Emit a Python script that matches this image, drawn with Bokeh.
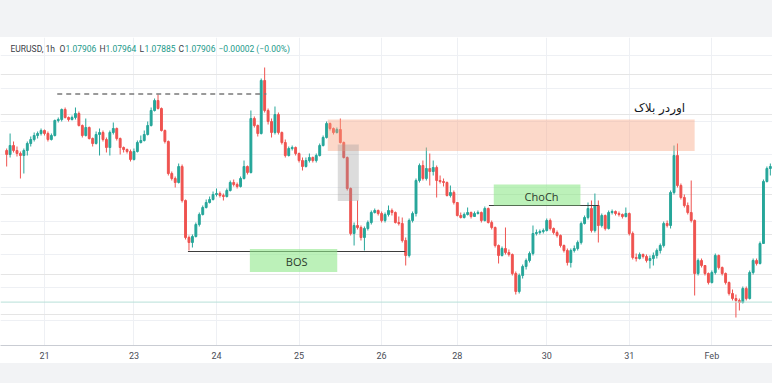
from bokeh.plotting import figure
from bokeh.models import FixedTicker, BoxAnnotation, Label, Grid, Span, Div
from bokeh.layouts import column
from bokeh.embed import file_html
from bokeh.resources import INLINE

# ---- data: EURUSD 1h candles (index 0 = first bar of the 21st) ----
hours = list(range(-11, 214))
first_open = 1.08020
close = [
    1.08000, 1.08045, 1.08020, 1.08005, 1.07995, 1.08020, 1.08055, 1.08075, 1.08095, 1.08105,
    1.08120, 1.08105, 1.08075, 1.08095, 1.08170, 1.08175, 1.08225, 1.08185, 1.08175, 1.08185,
    1.08205, 1.08145, 1.08095, 1.08135, 1.08080, 1.08055, 1.08100, 1.08110, 1.08075, 1.08035,
    1.08110, 1.08130, 1.08080, 1.08035, 1.08025, 1.08015, 1.07975, 1.08015, 1.08060, 1.08070,
    1.08100, 1.08145, 1.08220, 1.08270, 1.08230, 1.08120, 1.08065, 1.07905, 1.07880, 1.07860,
    1.07940, 1.07770, 1.07585, 1.07560, 1.07590, 1.07650, 1.07700, 1.07735, 1.07760, 1.07775,
    1.07800, 1.07805, 1.07795, 1.07790, 1.07820, 1.07860, 1.07850, 1.07840, 1.07880, 1.07940,
    1.07910, 1.08180, 1.08145, 1.08105, 1.08370, 1.08220, 1.08165, 1.08110, 1.08200, 1.08110,
    1.08060, 1.07995, 1.08030, 1.08035, 1.08005, 1.07970, 1.07940, 1.07970, 1.07985, 1.07970,
    1.07995, 1.08045, 1.08085, 1.08155, 1.08130, 1.08110, 1.08125, 1.08060, 1.07985, 1.07830,
    1.07605, 1.07645, 1.07635, 1.07585, 1.07630, 1.07660, 1.07710, 1.07720, 1.07705, 1.07670,
    1.07700, 1.07720, 1.07710, 1.07660, 1.07655, 1.07570, 1.07495, 1.07670, 1.07705, 1.07870,
    1.07945, 1.07880, 1.07930, 1.07915, 1.07935, 1.07870, 1.07865, 1.07860, 1.07795, 1.07810,
    1.07760, 1.07695, 1.07685, 1.07700, 1.07710, 1.07690, 1.07705, 1.07710, 1.07670, 1.07730,
    1.07660, 1.07635, 1.07545, 1.07495, 1.07530, 1.07510, 1.07500, 1.07405, 1.07315, 1.07395,
    1.07440, 1.07470, 1.07505, 1.07605, 1.07610, 1.07615, 1.07620, 1.07670, 1.07630, 1.07610,
    1.07595, 1.07545, 1.07520, 1.07460, 1.07520, 1.07530, 1.07560, 1.07655, 1.07685, 1.07730,
    1.07620, 1.07745, 1.07645, 1.07695, 1.07630, 1.07710, 1.07715, 1.07705, 1.07700, 1.07690,
    1.07705, 1.07605, 1.07485, 1.07480, 1.07500, 1.07490, 1.07470, 1.07480, 1.07495, 1.07520,
    1.07545, 1.07655, 1.07645, 1.07810, 1.07995, 1.07845, 1.07785, 1.07745, 1.07710, 1.07670,
    1.07405, 1.07470, 1.07445, 1.07405, 1.07360, 1.07410, 1.07495, 1.07435, 1.07405, 1.07360,
    1.07305, 1.07280, 1.07270, 1.07260, 1.07330, 1.07280, 1.07410, 1.07470, 1.07455, 1.07555,
    1.07865, 1.07930, 1.07940, 1.07920, 1.07940,
]
high = [
    1.08030, 1.08105, 1.08065, 1.08040, 1.08015, 1.08030, 1.08065, 1.08090, 1.08110, 1.08115,
    1.08130, 1.08125, 1.08115, 1.08105, 1.08175, 1.08185, 1.08230, 1.08235, 1.08190, 1.08195,
    1.08235, 1.08215, 1.08150, 1.08180, 1.08140, 1.08085, 1.08115, 1.08130, 1.08120, 1.08085,
    1.08120, 1.08160, 1.08135, 1.08085, 1.08040, 1.08030, 1.08025, 1.08030, 1.08070, 1.08095,
    1.08120, 1.08165, 1.08235, 1.08280, 1.08300, 1.08235, 1.08125, 1.08070, 1.07915, 1.07890,
    1.07955, 1.07950, 1.07775, 1.07595, 1.07600, 1.07660, 1.07710, 1.07745, 1.07775, 1.07790,
    1.07815, 1.07830, 1.07815, 1.07805, 1.07830, 1.07870, 1.07875, 1.07860, 1.07890, 1.07970,
    1.07945, 1.08220, 1.08190, 1.08150, 1.08380, 1.08435, 1.08230, 1.08180, 1.08240, 1.08210,
    1.08115, 1.08075, 1.08040, 1.08045, 1.08040, 1.08010, 1.07985, 1.07985, 1.08005, 1.07990,
    1.08005, 1.08055, 1.08095, 1.08165, 1.08160, 1.08135, 1.08135, 1.08180, 1.08065, 1.07990,
    1.07835, 1.07660, 1.07770, 1.07645, 1.07640, 1.07670, 1.07720, 1.07730, 1.07725, 1.07715,
    1.07710, 1.07745, 1.07730, 1.07715, 1.07690, 1.07685, 1.07585, 1.07680, 1.07715, 1.07880,
    1.07955, 1.07970, 1.08035, 1.08005, 1.07970, 1.07945, 1.07895, 1.07880, 1.07865, 1.07845,
    1.07820, 1.07735, 1.07710, 1.07710, 1.07735, 1.07715, 1.07715, 1.07720, 1.07715, 1.07740,
    1.07735, 1.07670, 1.07640, 1.07550, 1.07540, 1.07635, 1.07525, 1.07505, 1.07415, 1.07405,
    1.07450, 1.07480, 1.07515, 1.07645, 1.07625, 1.07625, 1.07630, 1.07680, 1.07680, 1.07635,
    1.07620, 1.07600, 1.07550, 1.07530, 1.07530, 1.07545, 1.07570, 1.07665, 1.07695, 1.07760,
    1.07770, 1.07805, 1.07770, 1.07705, 1.07700, 1.07720, 1.07725, 1.07720, 1.07715, 1.07705,
    1.07735, 1.07710, 1.07615, 1.07505, 1.07510, 1.07505, 1.07500, 1.07495, 1.07510, 1.07530,
    1.07555, 1.07665, 1.07670, 1.07820, 1.08045, 1.08055, 1.07855, 1.07800, 1.07760, 1.07870,
    1.07675, 1.07480, 1.07480, 1.07445, 1.07410, 1.07420, 1.07505, 1.07500, 1.07440, 1.07410,
    1.07365, 1.07325, 1.07300, 1.07280, 1.07340, 1.07340, 1.07420, 1.07480, 1.07480, 1.07565,
    1.07875, 1.07940, 1.07955, 1.07950, 1.07955,
]
low = [
    1.07940, 1.07985, 1.08010, 1.07990, 1.07880, 1.07905, 1.07995, 1.08040, 1.08065, 1.08080,
    1.08095, 1.08095, 1.08065, 1.08070, 1.08090, 1.08160, 1.08165, 1.08180, 1.08165, 1.08170,
    1.08175, 1.08140, 1.08085, 1.08090, 1.08075, 1.08040, 1.08050, 1.07995, 1.08065, 1.08010,
    1.07995, 1.08100, 1.08070, 1.08000, 1.08010, 1.08005, 1.07965, 1.07970, 1.08010, 1.08055,
    1.08065, 1.08095, 1.08140, 1.08215, 1.08225, 1.08115, 1.08055, 1.07895, 1.07870, 1.07835,
    1.07855, 1.07760, 1.07575, 1.07520, 1.07535, 1.07585, 1.07640, 1.07695, 1.07730, 1.07755,
    1.07770, 1.07790, 1.07785, 1.07770, 1.07785, 1.07815, 1.07840, 1.07830, 1.07835, 1.07875,
    1.07900, 1.07905, 1.08135, 1.08090, 1.08100, 1.08210, 1.08150, 1.08085, 1.08100, 1.08100,
    1.08050, 1.07985, 1.07990, 1.08020, 1.07995, 1.07960, 1.07920, 1.07935, 1.07960, 1.07960,
    1.07960, 1.07990, 1.08040, 1.08080, 1.08120, 1.08100, 1.08105, 1.08055, 1.07980, 1.07820,
    1.07595, 1.07545, 1.07625, 1.07570, 1.07520, 1.07620, 1.07650, 1.07705, 1.07695, 1.07660,
    1.07660, 1.07690, 1.07695, 1.07655, 1.07645, 1.07560, 1.07445, 1.07485, 1.07660, 1.07690,
    1.07860, 1.07870, 1.07870, 1.07845, 1.07895, 1.07785, 1.07855, 1.07840, 1.07790, 1.07785,
    1.07750, 1.07690, 1.07680, 1.07680, 1.07695, 1.07680, 1.07690, 1.07700, 1.07660, 1.07665,
    1.07655, 1.07625, 1.07535, 1.07455, 1.07490, 1.07500, 1.07490, 1.07395, 1.07300, 1.07305,
    1.07380, 1.07425, 1.07460, 1.07495, 1.07595, 1.07600, 1.07605, 1.07615, 1.07620, 1.07600,
    1.07585, 1.07535, 1.07510, 1.07445, 1.07435, 1.07510, 1.07520, 1.07550, 1.07650, 1.07675,
    1.07610, 1.07610, 1.07560, 1.07635, 1.07620, 1.07625, 1.07700, 1.07695, 1.07690, 1.07680,
    1.07685, 1.07595, 1.07475, 1.07465, 1.07475, 1.07480, 1.07460, 1.07430, 1.07445, 1.07480,
    1.07505, 1.07535, 1.07635, 1.07630, 1.07800, 1.07835, 1.07775, 1.07735, 1.07700, 1.07660,
    1.07295, 1.07395, 1.07435, 1.07395, 1.07350, 1.07355, 1.07400, 1.07425, 1.07395, 1.07350,
    1.07295, 1.07270, 1.07185, 1.07220, 1.07255, 1.07270, 1.07275, 1.07400, 1.07445, 1.07450,
    1.07555, 1.07860, 1.07895, 1.07910, 1.07920,
]
opens = [first_open] + close[:-1]

day_ticks = [0, 26, 50, 74, 98, 120, 146, 170, 194]
day_labels = ["21", "23", "24", "25", "26", "28", "30", "31", "Feb"]
price_grid = [1.07170, 1.07335, 1.07500, 1.07665, 1.07835, 1.08000, 1.08165, 1.08330, 1.08495]

# annotation zones / levels (bar index, price)
order_block = dict(left=82.35, right=189.0, top=1.08175, bottom=1.08018)
fvg_box = dict(left=85.26, right=91.37, top=1.08050, bottom=1.07767)
bos_box = dict(left=59.7, right=85.1, top=1.07528, bottom=1.07412)
choch_box = dict(left=130.6, right=155.8, top=1.07850, bottom=1.07745)
bos_level, bos_from, bos_to = 1.07515, 41.7, 104.9
choch_level, choch_from, choch_to = 1.07745, 129.2, 161.1
high_level, high_from, high_to = 1.08303, 3.7, 64.5
support_level = 1.07262

UP, DOWN = "#26a69a", "#ef5350"
colors = [UP if c >= o else DOWN for o, c in zip(opens, close)]
tops = [max(o, c) for o, c in zip(opens, close)]
bottoms = [min(o, c) for o, c in zip(opens, close)]

p = figure(frame_width=772, frame_height=308, x_range=(-12.79, 211.63), y_range=(1.07045, 1.08585),
           y_axis_location=None, output_backend="svg", toolbar_location=None,
           min_border_left=0, min_border_right=0, min_border_top=0, min_border_bottom=18,
           background_fill_color="white", border_fill_color="white")
p.outline_line_color = None

# grids
p.xgrid.ticker = FixedTicker(ticks=day_ticks)
p.xgrid.grid_line_color = "#eef0f4"
p.add_layout(Grid(dimension=1, ticker=FixedTicker(ticks=price_grid), grid_line_color="#eef0f4"))

# x axis
ax = p.xaxis[0]
ax.ticker = FixedTicker(ticks=day_ticks)
ax.major_label_overrides = {t: l for t, l in zip(day_ticks, day_labels)}
ax.axis_line_color = "#c9ccd3"
ax.major_tick_line_color = None
ax.minor_tick_line_color = None
ax.major_tick_out = 0
ax.minor_tick_out = 0
ax.major_tick_in = 0
ax.major_label_text_font = "Roboto"
ax.major_label_text_font_size = "9px"
ax.major_label_text_color = "#4a4d57"
ax.major_label_standoff = 5

# support level line
p.add_layout(Span(location=support_level, dimension="width", line_color="#b7e0d8", line_width=1))

# candles
p.segment(x0=hours, y0=high, x1=hours, y1=low, line_color=colors, line_width=1)
p.vbar(x=hours, width=0.55, top=tops, bottom=bottoms, fill_color=colors, line_color=colors, line_width=1)

# zones
p.add_layout(BoxAnnotation(**order_block, fill_color="#f7a27e", fill_alpha=0.42, line_color=None))
p.add_layout(BoxAnnotation(**fvg_box, fill_color="#9a9a9a", fill_alpha=0.35, line_color=None))
p.add_layout(BoxAnnotation(**bos_box, fill_color="#8fe88a", fill_alpha=0.6, line_color=None))
p.add_layout(BoxAnnotation(**choch_box, fill_color="#8fe88a", fill_alpha=0.6, line_color=None))

# structure lines
p.line([bos_from, bos_to], [bos_level, bos_level], line_color="#3d3d3d", line_width=1.2)
p.line([choch_from, choch_to], [choch_level, choch_level], line_color="#3d3d3d", line_width=1.2)
p.line([high_from, high_to], [high_level, high_level], line_color="#7a7a7a", line_width=1.5, line_dash="5 4")

# texts
p.add_layout(Label(x=73.3, y=1.07465, text="BOS", text_align="center", text_baseline="middle",
                   text_font="Open Sans", text_font_size="11px", text_color="#2d3b2d"))
p.add_layout(Label(x=144.5, y=1.07790, text="ChoCh", text_align="center", text_baseline="middle",
                   text_font="Open Sans", text_font_size="11px", text_color="#2d3b2d"))
p.add_layout(Label(x=178.8, y=1.08235, text="اوردر بلاک", text_align="center", text_baseline="middle",
                   text_font="DejaVu Sans", text_font_size="12px", text_color="#131722"))

title_y = 1.08530
p.add_layout(Label(x=-9.88, y=title_y, text="EURUSD, 1h", text_baseline="middle",
                   text_font="Roboto", text_font_size="8.5px", text_color="#3a3d46"))
for lx, letter, vx, val in [(4.36, "O", 6.10, "1.07906"), (15.99, "H", 17.70, "1.07964"),
                            (27.62, "L", 29.10, "1.07885"), (38.95, "C", 40.70, "1.07906")]:
    p.add_layout(Label(x=lx, y=title_y, text=letter, text_baseline="middle",
                       text_font="Roboto", text_font_size="8.5px", text_color="#3a3d46"))
    p.add_layout(Label(x=vx, y=title_y, text=val, text_baseline="middle",
                       text_font="Roboto", text_font_size="8.5px", text_color="#22998a"))
p.add_layout(Label(x=50.58, y=title_y, text="\u22120.00002 (\u22120.00%)", text_baseline="middle",
                   text_font="Roboto", text_font_size="8.5px", text_color="#22998a"))

top_band = Div(text="", width=772, height=37, margin=0, styles={"background-color": "#f2f3f5"})
bottom_band = Div(text="", width=772, height=20, margin=0, styles={"background-color": "#f2f3f5"})
layout = column(top_band, p, bottom_band, spacing=0)

open("out.html", "w").write(file_html(layout, INLINE))
